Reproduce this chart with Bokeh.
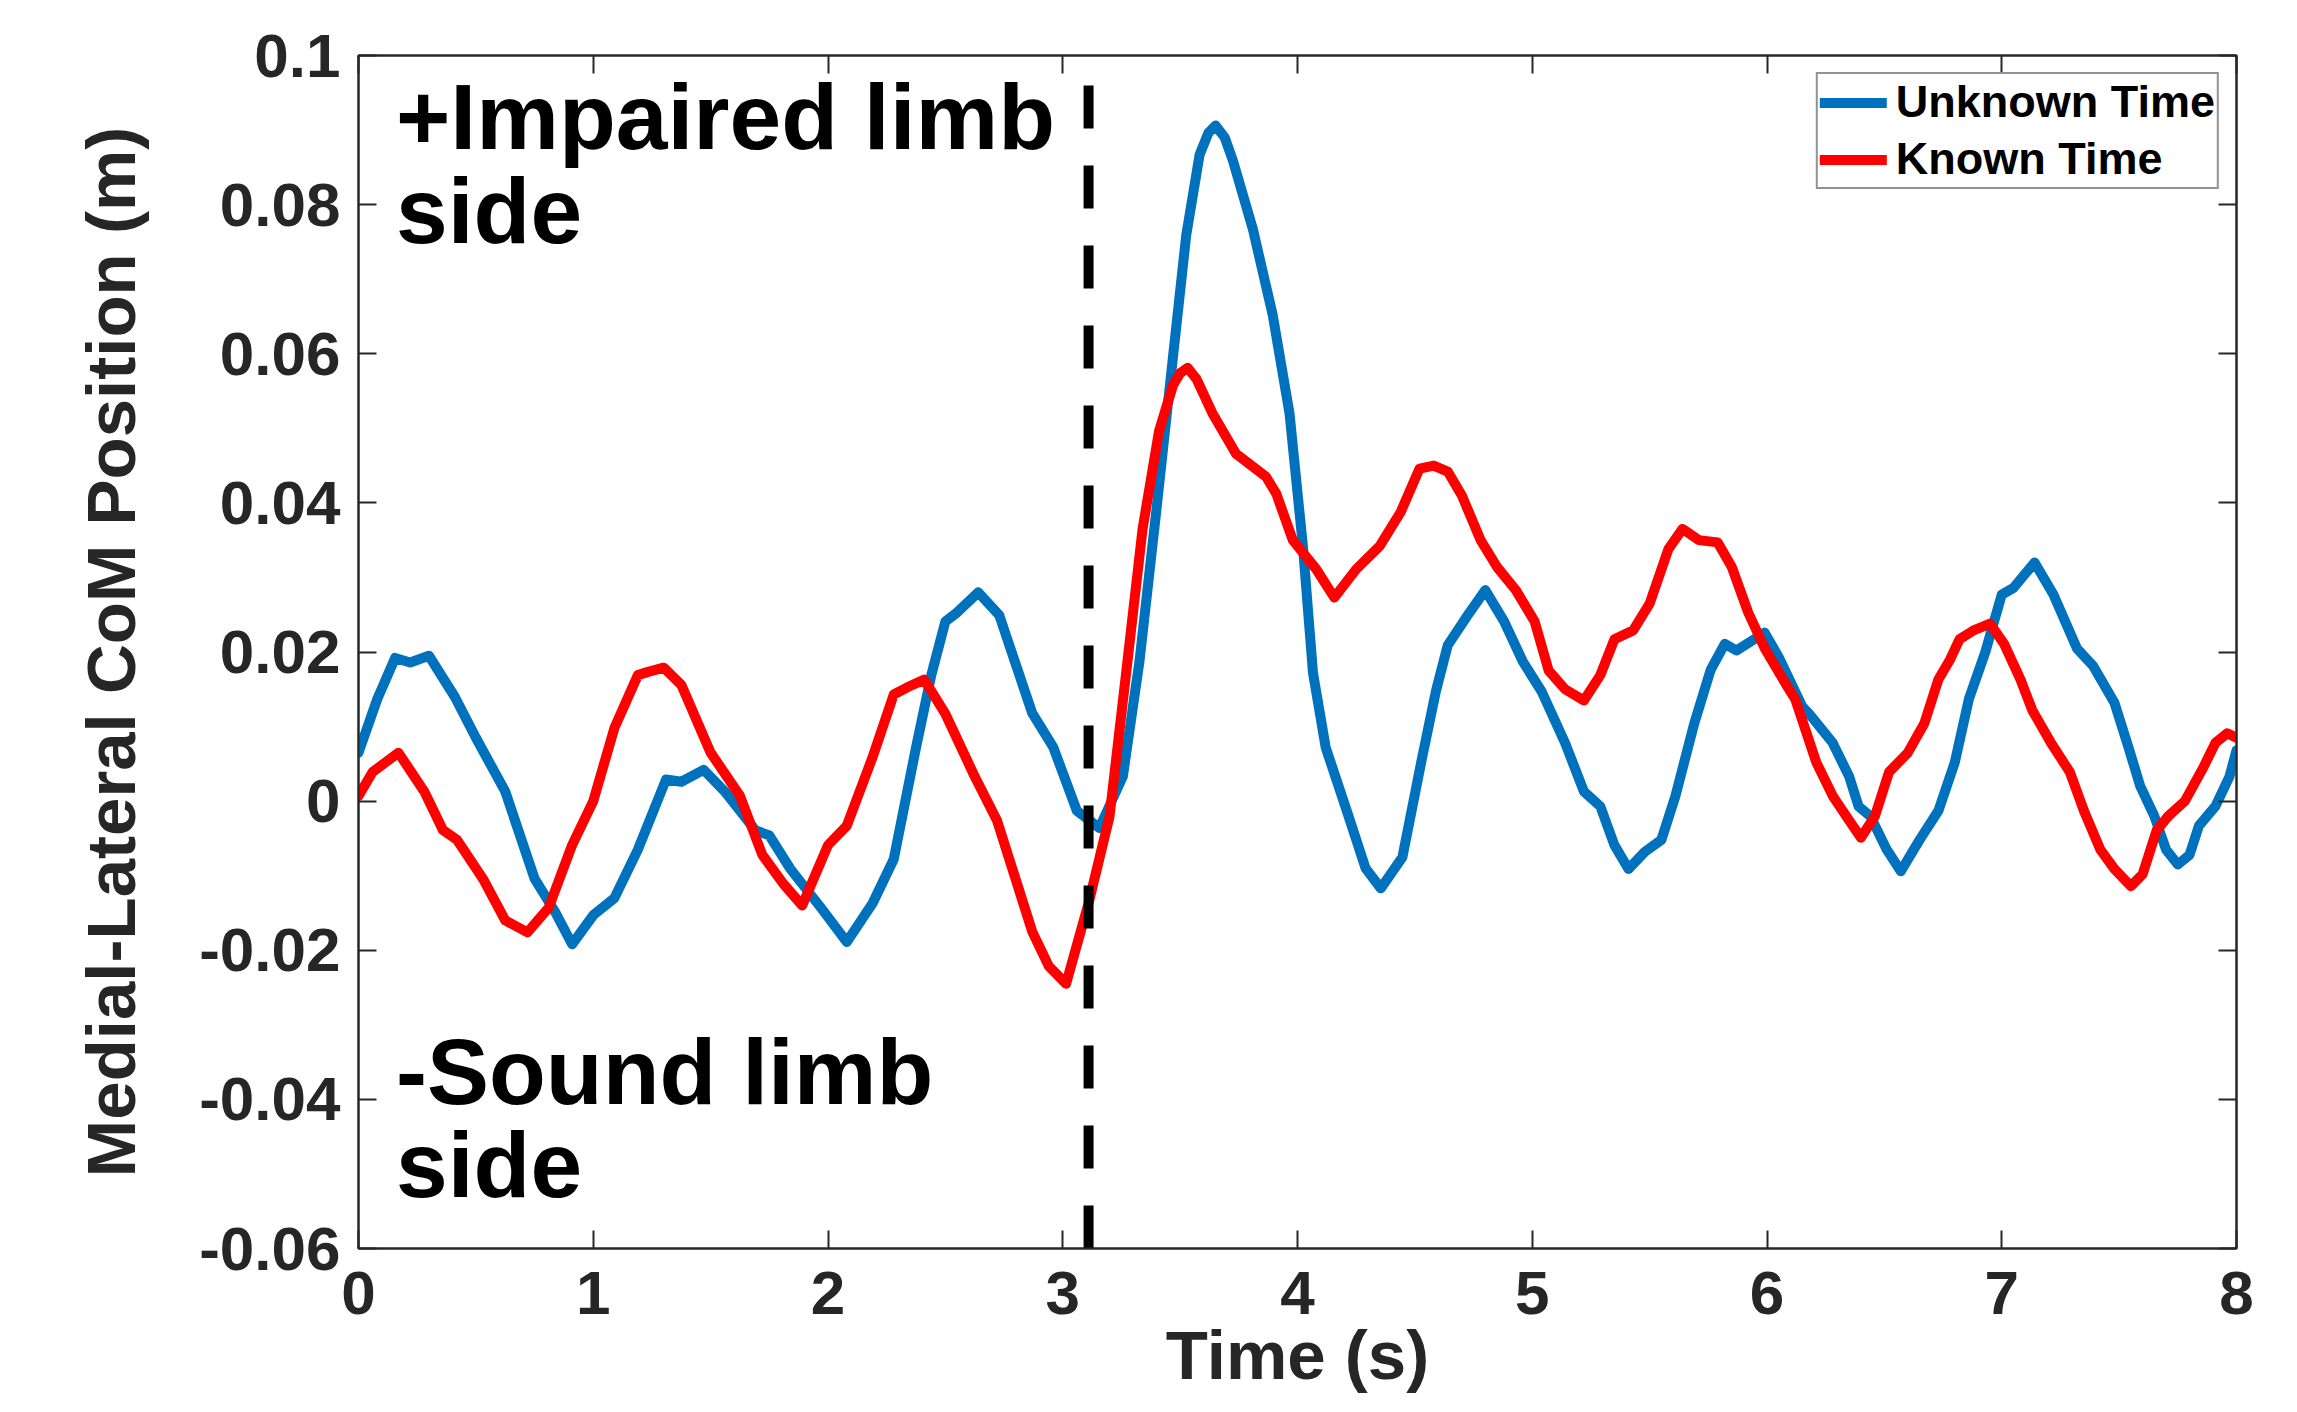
from bokeh.plotting import figure
from bokeh.models import Range1d, FixedTicker, LinearAxis, CustomJSTickFormatter
from bokeh.core.properties import value
from bokeh.embed import file_html
from bokeh.resources import INLINE

# ---------------- data ----------------
t_unknown = [0.00, 0.08, 0.156, 0.22, 0.30, 0.41, 0.50, 0.625, 0.75, 0.84, 0.91, 1.00, 1.09, 1.19,
             1.31, 1.375, 1.47, 1.56, 1.69, 1.75, 1.84, 1.97, 2.08, 2.19, 2.28, 2.375, 2.44, 2.50,
             2.55, 2.64, 2.73, 2.78, 2.87, 2.96, 3.06, 3.156, 3.256, 3.327, 3.398, 3.47, 3.526,
             3.583, 3.62, 3.651, 3.69, 3.725, 3.81, 3.895, 3.966, 4.023, 4.066, 4.12, 4.21, 4.29,
             4.355, 4.447, 4.53, 4.59, 4.64, 4.72, 4.80, 4.88, 4.96, 5.04, 5.14, 5.22, 5.29, 5.35,
             5.41, 5.48, 5.55, 5.61, 5.69, 5.76, 5.82, 5.87, 5.99, 6.05, 6.15, 6.18, 6.28, 6.35,
             6.39, 6.44, 6.51, 6.57, 6.65, 6.73, 6.80, 6.86, 6.93, 7.00, 7.05, 7.14, 7.22, 7.32,
             7.39, 7.48, 7.54, 7.59, 7.65, 7.70, 7.75, 7.80, 7.84, 7.91, 7.97, 8.00]
v_unknown = [0.0065, 0.0137, 0.0192, 0.0186, 0.0195, 0.0140, 0.0085, 0.0013, -0.0104, -0.0150,
             -0.0192, -0.0153, -0.0130, -0.0065, 0.0029, 0.0026, 0.0042, 0.0013, -0.0039, -0.0046,
             -0.0091, -0.0143, -0.0189, -0.0137, -0.0078, 0.0072, 0.0169, 0.0241, 0.0253, 0.0280,
             0.0249, 0.0202, 0.0118, 0.0072, -0.0013, -0.0036, 0.0033, 0.0188, 0.0388, 0.0597,
             0.0759, 0.0867, 0.0896, 0.0906, 0.0890, 0.0859, 0.0767, 0.0651, 0.0520, 0.0342,
             0.0172, 0.0072, -0.0013, -0.0090, -0.0117, -0.0075, 0.0057, 0.0148, 0.0209, 0.0247,
             0.0283, 0.0241, 0.0187, 0.0147, 0.0078, 0.0013, -0.0007, -0.0059, -0.0091, -0.0068,
             -0.0052, 0.0007, 0.0104, 0.0176, 0.0211, 0.0202, 0.0226, 0.0193, 0.0127, 0.0117,
             0.0078, 0.0033, -0.0007, -0.0020, -0.0065, -0.0094, -0.0052, -0.0013, 0.0052, 0.0137,
             0.0200, 0.0277, 0.0286, 0.0320, 0.0277, 0.0205, 0.0181, 0.0132, 0.0072, 0.0020,
             -0.0020, -0.0065, -0.0085, -0.0072, -0.0033, -0.0007, 0.0033, 0.0068]

t_known = [0.00, 0.06, 0.17, 0.28, 0.36, 0.42, 0.53, 0.625, 0.72, 0.81, 0.91, 1.00, 1.09, 1.19,
           1.23, 1.30, 1.375, 1.50, 1.625, 1.72, 1.81, 1.89, 2.00, 2.08, 2.19, 2.28, 2.34, 2.41,
           2.50, 2.625, 2.72, 2.87, 2.94, 3.014, 3.11, 3.199, 3.27, 3.34, 3.41, 3.47, 3.50, 3.532,
           3.57, 3.638, 3.738, 3.866, 3.91, 3.98, 4.08, 4.157, 4.25, 4.35, 4.44, 4.52, 4.58, 4.64,
           4.70, 4.78, 4.85, 4.93, 5.01, 5.07, 5.14, 5.22, 5.29, 5.35, 5.43, 5.50, 5.58, 5.64,
           5.71, 5.79, 5.85, 5.92, 5.99, 6.08, 6.12, 6.21, 6.28, 6.35, 6.40, 6.46, 6.52, 6.60,
           6.67, 6.73, 6.78, 6.82, 6.88, 6.95, 7.01, 7.08, 7.13, 7.21, 7.29, 7.35, 7.42, 7.48,
           7.55, 7.60, 7.66, 7.71, 7.78, 7.86, 7.91, 7.96, 8.00]
v_known = [0.0007, 0.0039, 0.0065, 0.0013, -0.0039, -0.0052, -0.0104, -0.0160, -0.0176, -0.0143,
           -0.0059, 0.0000, 0.0098, 0.0169, 0.0173, 0.0179, 0.0156, 0.0065, 0.0007, -0.0072,
           -0.0111, -0.0140, -0.0059, -0.0033, 0.0059, 0.0143, 0.0153, 0.0163, 0.0117, 0.0033,
           -0.0026, -0.0175, -0.0221, -0.0245, -0.0137, -0.0021, 0.0172, 0.0365, 0.0496, 0.0558,
           0.0574, 0.0581, 0.0566, 0.0520, 0.0466, 0.0435, 0.0412, 0.0350, 0.0311, 0.0273,
           0.0311, 0.0342, 0.0388, 0.0446, 0.0450, 0.0442, 0.0410, 0.0350, 0.0314, 0.0283,
           0.0241, 0.0175, 0.0150, 0.0135, 0.0169, 0.0217, 0.0229, 0.0265, 0.0338, 0.0365,
           0.0350, 0.0347, 0.0314, 0.0253, 0.0205, 0.0157, 0.0137, 0.0052, 0.0007, -0.0026,
           -0.0049, -0.0020, 0.0039, 0.0065, 0.0104, 0.0163, 0.0190, 0.0217, 0.0229, 0.0238,
           0.0211, 0.0163, 0.0122, 0.0078, 0.0039, -0.0013, -0.0065, -0.0091, -0.0114, -0.0098,
           -0.0039, -0.0020, 0.0000, 0.0046, 0.0078, 0.0091, 0.0085]

event_time = 3.11
x_ticks = [0, 1, 2, 3, 4, 5, 6, 7, 8]
y_ticks = [-0.06, -0.04, -0.02, 0.0, 0.02, 0.04, 0.06, 0.08, 0.1]
x_min, x_max = 0, 8
y_min, y_max = -0.06, 0.1

series_names = ["Unknown Time", "Known Time"]
upper_note = ["+Impaired limb", "side"]
lower_note = ["-Sound limb", "side"]
note_x = 0.16
upper_note_y = [0.0917, 0.0791]
lower_note_y = [-0.0363, -0.0488]

# ---------------- figure ----------------
AX = "#262626"
FONT = "Liberation Sans"

p = figure(width=2281, height=1396,
           x_range=Range1d(x_min, x_max), y_range=Range1d(y_min, y_max),
           output_backend="svg", toolbar_location=None,
           min_border_left=358, min_border_right=45, min_border_top=55, min_border_bottom=148)
p.grid.visible = False
p.outline_line_color = AX
p.outline_line_width = 2
p.background_fill_color = "white"
p.border_fill_color = "white"

p.line(t_unknown, v_unknown, line_color="#0072BD", line_width=10, line_join="round",
       line_cap="round", legend_label=series_names[0])
p.line(t_known, v_known, line_color="#FF0000", line_width=10, line_join="round",
       line_cap="round", legend_label=series_names[1])
p.line([event_time, event_time], [y_min, y_max], line_color="black", line_width=10,
       line_dash="43 37")

# notes
p.text(x=[note_x, note_x], y=upper_note_y, text=upper_note, text_font=value(FONT),
       text_font_style="bold", text_font_size="93px", text_color="black",
       text_baseline="alphabetic", text_align="left")
p.text(x=[note_x, note_x], y=lower_note_y, text=lower_note, text_font=value(FONT),
       text_font_style="bold", text_font_size="93px", text_color="black",
       text_baseline="alphabetic", text_align="left")

# axes
fmt = CustomJSTickFormatter(code="""
let s = tick.toFixed(2);
if (s.indexOf('.') >= 0) { s = s.replace(/0+$/, '').replace(/\\.$/, ''); }
if (s === '-0') { s = '0'; }
return s;
""")

for ax in (p.xaxis[0], p.yaxis[0]):
    ax.axis_line_color = AX
    ax.axis_line_width = 2
    ax.major_tick_line_color = AX
    ax.major_tick_line_width = 2
    ax.major_tick_in = 18
    ax.major_tick_out = 0
    ax.minor_tick_line_color = None
    ax.major_label_text_font = FONT
    ax.major_label_text_font_style = "bold"
    ax.major_label_text_font_size = "62px"
    ax.major_label_text_color = AX
    ax.axis_label_text_font = FONT
    ax.axis_label_text_font_style = "bold"
    ax.axis_label_text_font_size = "69px"
    ax.axis_label_text_color = AX

p.xaxis[0].major_label_text_line_height = 0.6
p.xaxis[0].axis_label_text_line_height = 0.6
p.xaxis[0].ticker = FixedTicker(ticks=x_ticks)
p.yaxis[0].ticker = FixedTicker(ticks=y_ticks)
p.yaxis[0].formatter = fmt
p.xaxis[0].axis_label = "Time (s)"
p.yaxis[0].axis_label = "Medial-Lateral CoM Position (m)"
p.xaxis[0].major_label_standoff = 23
p.xaxis[0].axis_label_standoff = 0
p.yaxis[0].major_label_standoff = 18
p.yaxis[0].axis_label_standoff = 46

blank = CustomJSTickFormatter(code="return '';")
top_axis = LinearAxis(ticker=FixedTicker(ticks=x_ticks), formatter=blank,
                      major_tick_in=18, major_tick_out=0, minor_tick_line_color=None,
                      axis_line_color=AX, axis_line_width=2, major_tick_line_color=AX,
                      major_tick_line_width=2, major_label_text_font_size="1px")
right_axis = LinearAxis(ticker=FixedTicker(ticks=y_ticks), formatter=blank,
                        major_tick_in=18, major_tick_out=0, minor_tick_line_color=None,
                        axis_line_color=AX, axis_line_width=2, major_tick_line_color=AX,
                        major_tick_line_width=2, major_label_text_font_size="1px")
p.add_layout(top_axis, "above")
p.add_layout(right_axis, "right")

# legend
lg = p.legend[0]
lg.location = "top_right"
lg.margin = 17
lg.padding = 2
lg.spacing = 5
lg.glyph_width = 67
lg.glyph_height = 49
lg.label_height = 49
lg.label_standoff = 9
lg.label_text_font = FONT
lg.label_text_font_style = "bold"
lg.label_text_font_size = "45px"
lg.label_text_color = "black"
lg.border_line_color = AX
lg.border_line_width = 2
lg.background_fill_color = "white"
lg.background_fill_alpha = 1.0

open("out.html", "w").write(file_html(p, INLINE))
